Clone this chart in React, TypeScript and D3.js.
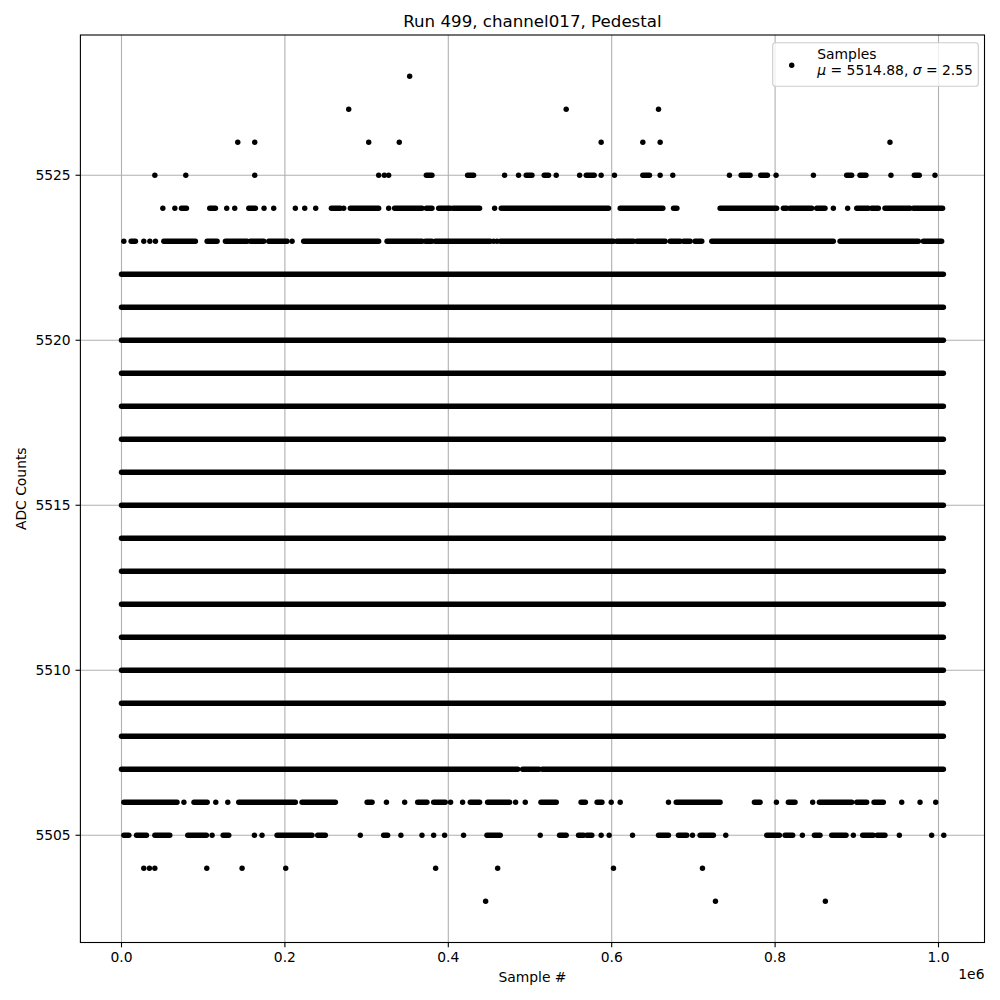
import React from 'react';
import * as d3 from 'd3';

type Run = number | [number, number];

// ---- data (sample positions in thousands of samples; single number = isolated point, pair = run of points) ----
const xTicks = [0, 200000, 400000, 600000, 800000, 1000000];
const xTickLabels = ['0.0', '0.2', '0.4', '0.6', '0.8', '1.0'];
const yTicks = [5505, 5510, 5515, 5520, 5525];

const runs5503: Run[] = [445.7, 727, 861.5];
const runs5504: Run[] = [27.3, 34.2, 40.8, 104.4, 147.6, 201, 384.5, 460.4, 602.2, 711.1];
const runs5505: Run[] = [[2.9, 9], [18.4, 30.6], [40.8, 59.1], [81.1, 103.9], 110.9, [124.4, 131.3], 162.7, 172,
  [190.4, 233.2], [240.1, 249.5], 292.3, [320.9, 325.8], 342, 367.8, 382.1, 395.5, 418.7, [447.3, 463.6], 512.5,
  [536.2, 544.3], [559.4, 565.5], [569.6, 575.7], 587.1, 596.9, 625.5, [657.3, 669.5], [681.7, 691.9], 698.9,
  [708.2, 724.5], 739.6, [789.8, 805.3], [812.2, 821.6], 833.4, [848.1, 855], [869.3, 886.8], 895.8, [907.2, 920],
  [925, 934.5], 952.1, 991.6, 1006.5];
const runs5506: Run[] = [[2.9, 68], 76.4, [88.7, 104.9], 115.4, 130.1, [143.5, 212.8], [221, 261.8], [300.6, 306.7],
  324.3, 346.6, [362.5, 373.9], [382.1, 396.3], 402.8, 417.5, [426.9, 438.3], [448.1, 475], 482.4, 494.2,
  [513.4, 532.2], [562.5, 567.8], [582.1, 588.1], 599.4, 610.4, 669.5, [679, 732.7], [774.7, 781.6], 801.6,
  [816.2, 824.4], 846, [854.2, 893.8], [899.9, 912.1], [921.1, 932.5], 955, 977.4, 996.6];
const runs5507: Run[] = [[0, 485], [491, 511], [515, 1006]];
const denseRow: Run[] = [[0, 1006]];
const runs5523: Run[] = [2.85, [11.8, 17.1], 27.3, 34.7, 41.6, [51.8, 90.5], [104.8, 117], [127.2, 153.7],
  [157.8, 174.1], [180.2, 202.6], 208.8, [223, 314.8], [325, 367.8], [371.9, 380], [384.1, 451.4], 455.5, 459.6,
  [463.7, 602.2], [606.3, 626.7], [630.8, 665.4], [671.6, 683.8], [687.9, 696], [702, 710.3], [722.5, 871.3],
  [879.5, 975.3], [981.5, 1003.9]];
const runs5524: Run[] = [50.6, 65.3, [73.4, 79.5], [108, 115], 128.8, 138.6, [155.8, 163.9], 174.5, 186.3, 212.8,
  224.3, 237.7, [256.9, 268], 272, [280.1, 314.8], 327, [334.3, 367.8], [373.1, 380], [388.2, 402.4], [405.7, 438.3],
  456.7, [464.8, 528], [530.1, 596.1], [610.4, 662.6], [675.7, 679.8], [732.7, 801.9], [810.1, 814.2],
  [818.3, 844.8], [850.9, 861.1], 871.3, 888.8, [899.9, 914.1], [918.2, 926.4], [934.5, 965.1], [969.2, 1005]];
const runs5525: Run[] = [40.8, 78.7, 163.1, 314.8, 321.7, 327, [373.1, 380], [423.6, 431], 468.9, 486,
  [495.4, 502.4], [517.4, 522.7], 532.1, 560.7, [568.9, 578.6], 587.1, 603.4, [638.1, 646.2], 659.3, 674.8, 744.1,
  [758.4, 769.4], [782.4, 790.6], 801.2, 846.9, [887.6, 893.7], [903.9, 911.2], 941.8, [970.4, 976.5], 995.7];
const runs5526: Run[] = [142.3, 163.1, 302.6, 340, 587.1, 638.1, 659.3, 940.6];
const runs5527: Run[] = [278.1, 544.3, 657.3];
const runs5528: Run[] = [352.7];

const rows: [number, Run[]][] = [
  [5503, runs5503], [5504, runs5504], [5505, runs5505], [5506, runs5506], [5507, runs5507],
  [5508, denseRow], [5509, denseRow], [5510, denseRow], [5511, denseRow], [5512, denseRow],
  [5513, denseRow], [5514, denseRow], [5515, denseRow], [5516, denseRow], [5517, denseRow],
  [5518, denseRow], [5519, denseRow], [5520, denseRow], [5521, denseRow], [5522, denseRow],
  [5523, runs5523], [5524, runs5524], [5525, runs5525], [5526, runs5526], [5527, runs5527], [5528, runs5528],
];

const titleText = 'Run 499, channel017, Pedestal';
const legendLabel = 'Samples';
const muText = '5514.88';
const sigmaText = '2.55';

export default function App() {
  const xs = d3.scaleLinear().domain([-50300, 1056300]).range([80.4, 984.5]);
  const ys = d3.scaleLinear().domain([5501.75, 5529.25]).range([942.5, 35]);
  const [L, R] = xs.range();
  const [B, T] = ys.range();
  const r = 2.7;
  const font = 'DejaVu Sans, sans-serif';
  const fs = 13.89;
  const gridC = '#b0b0b0';

  const marks: React.ReactNode[] = [];
  rows.forEach(([lvl, rs]) => {
    rs.forEach((run, i) => {
      const [a, b] = typeof run === 'number' ? [run, run] : run;
      const x0 = xs(a * 1000);
      const x1 = xs(b * 1000);
      const y = ys(lvl);
      marks.push(
        <rect key={`${lvl}-${i}`} x={x0 - r} y={y - r} width={x1 - x0 + 2 * r} height={2 * r} rx={r} ry={r} fill="#000" />
      );
    });
  });

  return (
    <svg width={1000} height={1000} style={{ position: 'absolute', left: 0, top: 0, background: '#fff' }} fontFamily={font}>
      <rect x={0} y={0} width={1000} height={1000} fill="#fff" />
      {/* grid */}
      {xTicks.map((t) => (
        <line key={`gx${t}`} x1={xs(t)} x2={xs(t)} y1={T} y2={B} stroke={gridC} strokeWidth={1.1} />
      ))}
      {yTicks.map((t) => (
        <line key={`gy${t}`} x1={L} x2={R} y1={ys(t)} y2={ys(t)} stroke={gridC} strokeWidth={1.1} />
      ))}
      {/* data */}
      <g>{marks}</g>
      {/* spines */}
      <rect x={L} y={T} width={R - L} height={B - T} fill="none" stroke="#000" strokeWidth={1.1} />
      {/* x ticks */}
      {xTicks.map((t, i) => (
        <g key={`xt${t}`}>
          <line x1={xs(t)} x2={xs(t)} y1={B} y2={B + 4.86} stroke="#000" strokeWidth={1.1} />
          <text x={xs(t)} y={962} textAnchor="middle" fontSize={fs} fill="#000">{xTickLabels[i]}</text>
        </g>
      ))}
      <text x={R} y={978.5} textAnchor="end" fontSize={fs} fill="#000">1e6</text>
      {/* y ticks */}
      {yTicks.map((t) => (
        <g key={`yt${t}`}>
          <line x1={L - 4.86} x2={L} y1={ys(t)} y2={ys(t)} stroke="#000" strokeWidth={1.1} />
          <text x={L - 9.7} y={ys(t) + 5} textAnchor="end" fontSize={fs} fill="#000">{t}</text>
        </g>
      ))}
      {/* labels */}
      <text x={(L + R) / 2} y={982} textAnchor="middle" fontSize={fs} fill="#000">Sample #</text>
      <text transform={`translate(26,${(T + B) / 2}) rotate(-90)`} textAnchor="middle" fontSize={fs} fill="#000">ADC Counts</text>
      <text x={(L + R) / 2} y={26.7} textAnchor="middle" fontSize={16.67} fill="#000">{titleText}</text>
      {/* legend */}
      <rect x={772.7} y={42.7} width={205.6} height={43.6} rx={2.8} ry={2.8} fill="#fff" fillOpacity={0.8} stroke="#cccccc" strokeWidth={1.1} />
      <circle cx={791.7} cy={65.3} r={r} fill="#000" />
      <text x={817.3} y={58.7} fontSize={fs} fill="#000">{legendLabel}</text>
      <text x={817.3} y={74.8} fontSize={fs} fill="#000">
        <tspan fontStyle="italic">μ</tspan>
        <tspan>{` = ${muText}, `}</tspan>
        <tspan fontStyle="italic">σ</tspan>
        <tspan>{` = ${sigmaText}`}</tspan>
      </text>
    </svg>
  );
}
